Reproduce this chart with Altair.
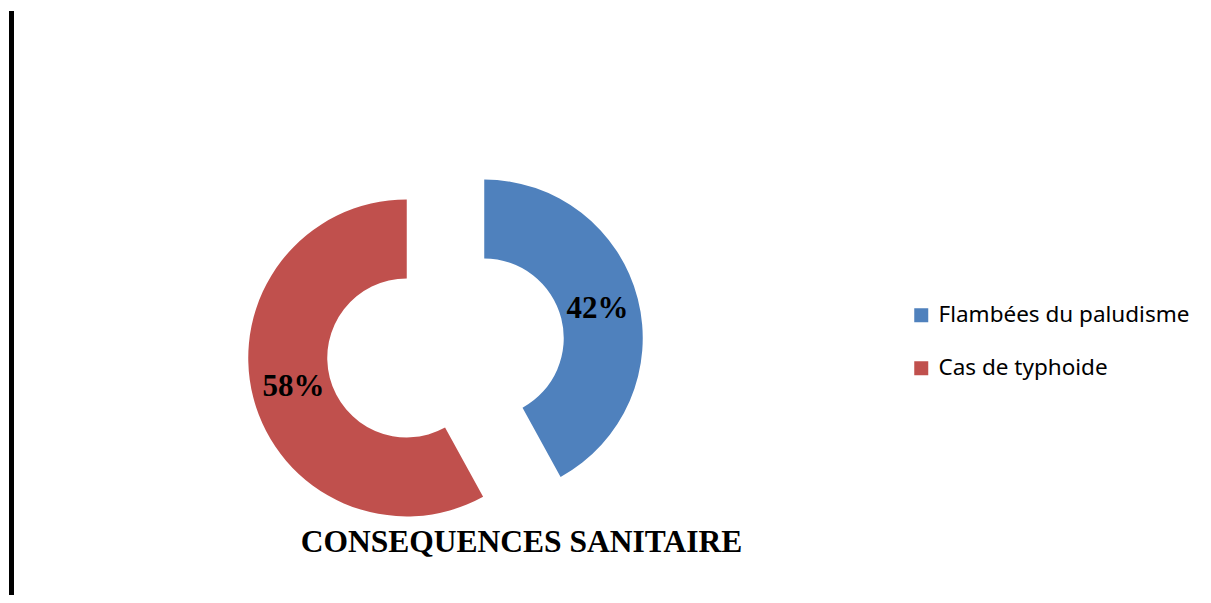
import altair as alt
import pandas as pd

categories = ["Flambées du paludisme", "Cas de typhoide"]
values = [42, 58]
colors = ["#4F81BD", "#C0504D"]
title_text = "CONSEQUENCES SANITAIRE"

df = pd.DataFrame({"category": categories, "value": values, "order": list(range(len(values)))})

CX, CY = 437.5, 340
R_OUT, R_IN = 158.5, 79.5
EXPLODE = 40
LABEL_R = 117
SERIF = "'Liberation Serif', 'Times New Roman', Times, serif"

base = (
    alt.Chart(df)
    .transform_joinaggregate(total="sum(value)")
    .transform_window(cum="sum(value)", sort=[alt.SortField("order")], frame=[None, 0])
    .transform_calculate(t1="2*PI*datum.cum/datum.total")
    .transform_calculate(t0="2*PI*(datum.cum-datum.value)/datum.total")
    .transform_calculate(mid="(datum.t0+datum.t1)/2")
    .transform_calculate(
        cx=f"{CX}+{EXPLODE}*sin(datum.mid)",
        cy=f"{CY}-{EXPLODE}*cos(datum.mid)",
        lx=f"{CX}+({EXPLODE}+{LABEL_R})*sin(datum.mid)",
        ly=f"{CY}-({EXPLODE}+{LABEL_R})*cos(datum.mid)",
        label="format(datum.value/datum.total, '.0%')",
    )
)

arcs = base.mark_arc(innerRadius=R_IN, outerRadius=R_OUT).encode(
    x=alt.X("cx:Q", scale=None, axis=None),
    y=alt.Y("cy:Q", scale=None, axis=None),
    theta=alt.Theta("t0:Q", scale=None, stack=None),
    theta2=alt.Theta2("t1:Q"),
    color=alt.Color(
        "category:N",
        scale=alt.Scale(domain=categories, range=colors),
        legend=alt.Legend(
            title=None,
            orient="none",
            legendX=902,
            legendY=296,
            symbolType="square",
            symbolSize=196,
            symbolStrokeWidth=0,
            labelFont="Noto Sans",
            labelFontSize=22.5,
            labelColor="black",
            labelOffset=6,
            rowPadding=30,
            padding=0,
            labelLimit=400,
        ),
    ),
)

labels = base.mark_text(
    font=SERIF, fontSize=31, fontWeight="bold", color="black",
    align="center", baseline="middle",
).encode(
    x=alt.X("lx:Q", scale=None, axis=None),
    y=alt.Y("ly:Q", scale=None, axis=None),
    text="label:N",
)

tdf = pd.DataFrame({"t": [title_text]})
title = alt.Chart(tdf).mark_text(
    font=SERIF, fontSize=31.5, fontWeight="bold", color="black",
    align="center", baseline="alphabetic",
).encode(x=alt.value(513.5), y=alt.value(544), text="t:N")

border = alt.Chart(tdf).mark_rule(color="black", strokeWidth=5).encode(
    x=alt.value(3.5), y=alt.value(3), y2=alt.value(595)
)

chart = (
    alt.layer(arcs, labels, title, border)
    .properties(width=1195, height=587, autosize="none", padding=0)
    .configure_view(stroke=None)
)

chart.save("out.html", embed_options={"renderer": "svg", "actions": False})
